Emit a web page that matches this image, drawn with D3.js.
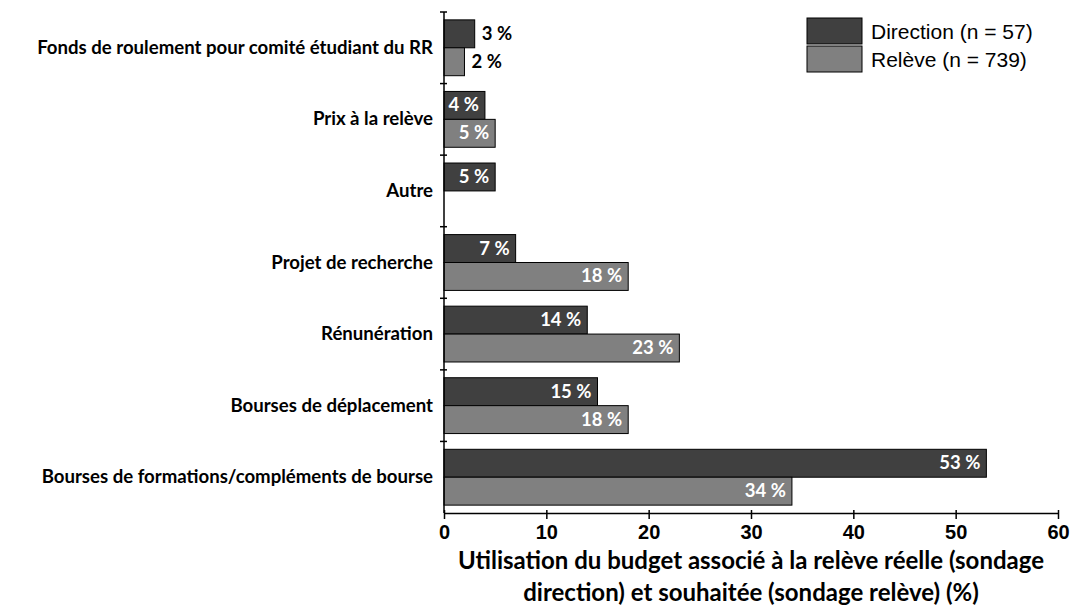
<!DOCTYPE html>
<html>
<head>
<meta charset="utf-8">
<script src="https://cdn.jsdelivr.net/npm/d3@7"></script>
<style>
  body { margin: 0; background: #fff; }
  .axis path, .axis line { stroke: #000; stroke-width: 1.5; }
</style>
</head>
<body>
<script>
let categories = ["Fonds de roulement pour comité étudiant du RR","Prix à la relève","Autre","Projet de recherche","Rénunération","Bourses de déplacement","Bourses de formations/compléments de bourse"];
let direction = [3,4,5,7,14,15,53];
let releve = [2,5,0,18,23,18,34];
let seriesNames = ["Direction (n = 57)","Relève (n = 739)"];
let xTicks = [0,10,20,30,40,50,60];

let width = 1076, height = 606;
let margin = {left:444,right:18,top:12,bottom:93};
let svg = d3.select("body").append("svg").attr("width",width).attr("height",height);
let font = "Lato, 'Open Sans', sans-serif";

let x = d3.scaleLinear().domain([0,60]).range([margin.left,width-margin.right]);
let y = d3.scaleBand().domain(categories).range([margin.top,height-margin.bottom]).paddingInner(0.22).paddingOuter(0.11);
let sub = d3.scaleBand().domain([0,1]).range([0,y.bandwidth()]);
let colors = ["#404040","#808080"];

let rows = categories.map((c,i)=>({cat:c,vals:[direction[i],releve[i]]}));

let g = svg.append("g");
rows.forEach((r,i)=>{
  r.vals.forEach((v,k)=>{
    if(v===0) return;
    let y0 = y(r.cat)+sub(k);
    g.append("rect")
      .attr("x",x(0)).attr("y",y0)
      .attr("width",x(v)-x(0)).attr("height",sub.bandwidth())
      .attr("fill",colors[k]).attr("stroke","#000").attr("stroke-width",1);
    let inside = v>=4;
    g.append("text")
      .attr("x",inside ? x(v)-6 : x(v)+7)
      .attr("y",y0+sub.bandwidth()/2+6)
      .attr("text-anchor",inside ? "end":"start")
      .attr("font-family",font)
      .attr("font-weight","bold").attr("font-size",18.5)
      .attr("fill",inside ? "#fff":"#000")
      .text(v+" %");
  });
});

// category labels
svg.append("g").selectAll("text").data(categories).enter().append("text")
  .attr("x",margin.left-11)
  .attr("y",d=>y(d)+y.bandwidth()/2+6)
  .attr("text-anchor","end")
  .attr("font-family",font)
  .attr("font-weight","bold").attr("font-size",18.6)
  .text(d=>d);

// y axis line with ticks between categories
let yAxis = svg.append("g").attr("class","axis");
yAxis.append("line").attr("x1",x(0)).attr("x2",x(0)).attr("y1",margin.top).attr("y2",height-margin.bottom);
d3.range(categories.length).forEach(i=>{
  let yy = margin.top + i*(height-margin.top-margin.bottom)/categories.length;
  yAxis.append("line").attr("x1",x(0)-4).attr("x2",x(0)+3).attr("y1",yy).attr("y2",yy);
});

// x axis
let xAxis = d3.axisBottom(x).tickValues(xTicks).tickSize(6).tickPadding(6).tickSizeOuter(0);
let xg = svg.append("g").attr("class","axis").attr("transform","translate(0,"+(height-margin.bottom)+")")
  .attr("font-size",20).call(xAxis);
xg.selectAll(".tick text")
  .attr("font-family","'Liberation Sans', Arial, sans-serif").attr("font-weight","bold")
  .style("font-size","20px").attr("fill","#000");
xg.selectAll(".tick line").attr("y1",-3);

// axis title
let title = svg.append("text").attr("text-anchor","middle")
  .attr("font-family",font).attr("font-weight","bold").attr("font-size",24);
title.append("tspan").attr("x",751).attr("y",569).text("Utilisation du budget associé à la relève réelle (sondage");
title.append("tspan").attr("x",751).attr("y",601).text("direction) et souhaitée (sondage relève) (%)");

// legend
let leg = svg.append("g").attr("transform","translate(807,18)");
seriesNames.forEach((n,k)=>{
  leg.append("rect").attr("x",0).attr("y",k*28).attr("width",55).attr("height",26)
    .attr("fill",colors[k]).attr("stroke","#000").attr("stroke-width",1);
  leg.append("text").attr("x",64).attr("y",k*28+21)
    .attr("font-family","'Liberation Sans', Arial, sans-serif").attr("font-size",21)
    .text(n);
});
</script>
</body>
</html>
